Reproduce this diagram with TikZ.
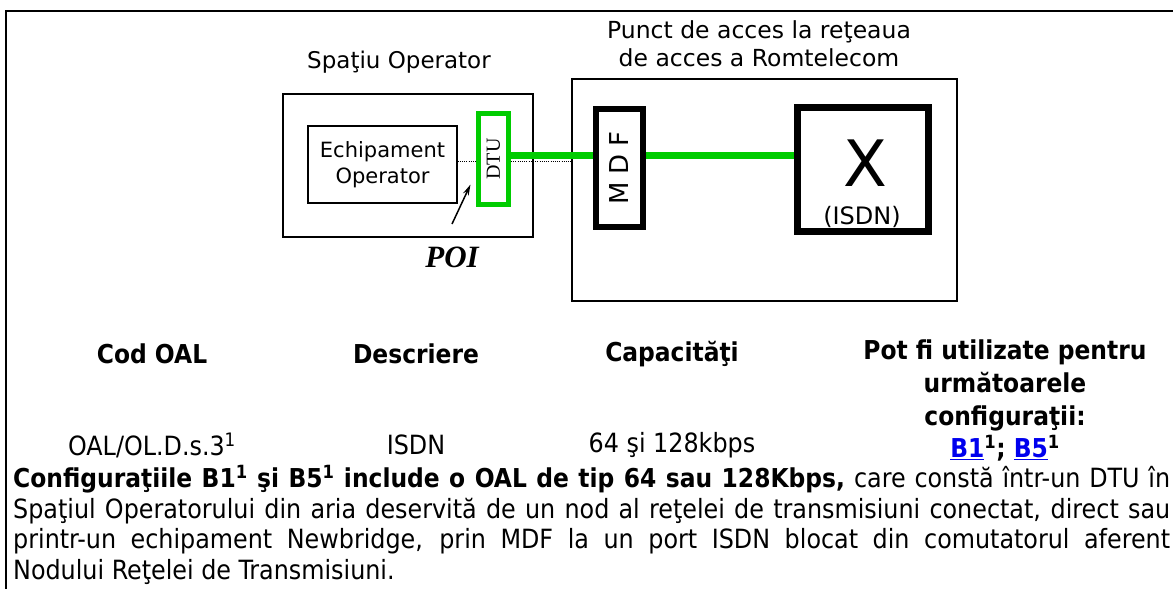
\documentclass[tikz,border=0pt]{standalone}
\usepackage{fontspec}
\setmainfont{DejaVu Sans}
\newfontfamily\cond{DejaVu Sans Condensed}
\newfontfamily\tms{Liberation Serif}
\usetikzlibrary{arrows.meta}
\definecolor{lgreen}{RGB}{0,204,0}
\definecolor{lblue}{RGB}{0,0,238}
\begin{document}
\begin{tikzpicture}[x=1pt,y=-1pt,
  thinbox/.style={draw,line width=1.3pt,inner sep=0pt,rectangle},
  greenline/.style={draw=lgreen,line width=7pt},
  dotline/.style={draw,line width=1pt,dash pattern=on 1pt off 1.2pt},
  lbl/.style={inner sep=0pt,align=center},
  hdr/.style={inner sep=0pt,align=center,font=\cond\bfseries\fontsize{26}{33}\selectfont},
  cell/.style={inner sep=0pt,align=center,font=\cond\fontsize{26.5}{30}\selectfont}]
\useasboundingbox (0,0) rectangle (1173,589);
% outer frame
\draw[line width=2pt] (6,589) -- (6,11) -- (1173,11);
% operator space
\node[lbl,font=\fontsize{23}{28}\selectfont] (tOp) at (399,62) {Spaţiu Operator};
\node[thinbox,minimum width=250pt,minimum height=143pt] (op) at (408,165.5) {};
\node[thinbox,minimum width=149pt,minimum height=77pt,align=center,
      font=\fontsize{21}{26}\selectfont] (eq) at (382.5,164.5) {Echipament\\Operator};
\node[draw=lgreen,line width=5pt,inner sep=0pt,minimum width=30pt,minimum height=91pt,
      font=\tms\fontsize{20}{24}\selectfont] (dtu) at (493.5,159) {\rotatebox{90}{DTU}};
% Romtelecom access point
\node[lbl,font=\fontsize{23.5}{28}\selectfont] (tRom) at (759,44) {Punct de acces la reţeaua\\de acces a Romtelecom};
\node[thinbox,minimum width=385pt,minimum height=222pt] (rom) at (764.5,190) {};
\node[draw,line width=6pt,inner sep=0pt,minimum width=47pt,minimum height=118pt,
      font=\fontsize{26}{30}\selectfont] (mdf) at (619.5,168) {\rotatebox{90}{M D F}};
\node[draw,line width=7pt,inner sep=0pt,minimum width=131pt,minimum height=124pt] (xb) at (863,169.5) {};
\node[lbl,font=\fontsize{64}{70}\selectfont] (xl) at (865,163) {X};
\node[lbl,font=\fontsize{24}{28}\selectfont] (isdn) at (862,217) {(ISDN)};
% connectors
\coordinate (gy) at (0,155.5);
\coordinate (dy) at (0,161);
\draw[dotline] (eq.east |- dy) -- (dtu.west |- dy);
\draw[dotline] (dtu.east |- dy) -- (rom.west |- dy);
\draw[greenline] (dtu.east |- gy) -- (mdf.west |- gy);
\draw[greenline] (mdf.east |- gy) -- (xb.west |- gy);
\coordinate (ptail) at (452,224);
\draw[line width=1.5pt,-{Stealth[length=11pt,width=6pt]}] (ptail) -- ([xshift=-5.5pt,yshift=22.5pt]dtu.south west);
\node[lbl,font=\tms\bfseries\itshape\fontsize{31}{36}\selectfont] (poi) at (452,257) {POI};
% table
\node[hdr] (h1) at (152,354) {Cod OAL};
\node[hdr] (h2) at (416,354) {Descriere};
\node[hdr] (h3) at (672,354) {Capacităţi};
\node[hdr,anchor=north] (h4) at (1005,340) {Pot fi utilizate pentru\\următoarele\\configuraţii:};
\node[cell] (c1) at (152,445) {OAL/OL.D.s.3\textsuperscript{1}};
\node[cell] (c2) at (416,445) {ISDN};
\node[cell] (c3) at (672,445) {64 şi 128kbps};
\node[cell,font=\cond\bfseries\fontsize{26}{30}\selectfont] (c4) at (1005,448) {\textcolor{lblue}{\underline{B1}}\textsuperscript{1}; \textcolor{lblue}{\underline{B5}}\textsuperscript{1}};
% paragraph
\node[inner sep=0pt,anchor=north west,text width=1157pt,align=justify,
      font=\cond\fontsize{26.5}{30.7}\selectfont] (para) at (13,465)
 {\tolerance=10000\hyphenpenalty=10000{\bfseries\fontsize{26}{30.7}\selectfont Configuraţiile B1\textsuperscript{1} şi B5\textsuperscript{1} include o OAL de tip 64 sau 128Kbps,} care constă într-un DTU în\linebreak
 Spaţiul Operatorului din aria deservită de un nod al reţelei de transmisiuni conectat, direct sau\linebreak
 printr-un echipament Newbridge, prin MDF la un port ISDN blocat din comutatorul aferent\linebreak
 Nodului Reţelei de Transmisiuni.};
\end{tikzpicture}
\end{document}
